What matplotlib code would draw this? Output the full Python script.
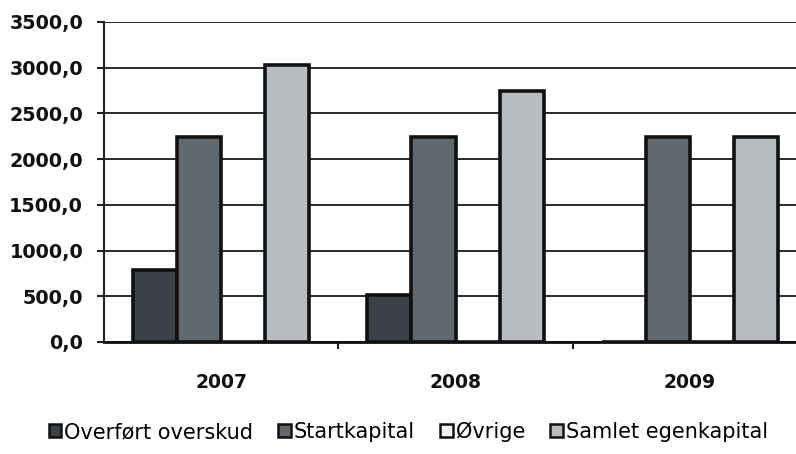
import numpy as np
import matplotlib
matplotlib.use('Agg')
import matplotlib.pyplot as plt
from matplotlib.ticker import FuncFormatter

years = ['2007', '2008', '2009']
series = ['Overført overskud', 'Startkapital', 'Øvrige', 'Samlet egenkapital']
overfort = [790, 510, 0]
startkapital = [2240, 2240, 2240]
ovrige = [0, 0, 0]
samlet = [3030, 2750, 2240]
values = [overfort, startkapital, ovrige, samlet]
colors = ['#3b4146', '#62696e', '#f2f2f2', '#b9bdc1']

plt.rcParams['font.family'] = ['DejaVu Sans']

fig = plt.figure(figsize=(7.96, 4.54), dpi=100)
ax = fig.add_axes([104/796, 1-342/454, 1-104/796, 320/454])

x = np.arange(len(years))
w = 0.188
for i, (name, vals, c) in enumerate(zip(series, values, colors)):
    ax.bar(x + (i - 1.5) * w, vals, width=w, color=c, edgecolor='#111111',
           linewidth=2.6, label=name, zorder=3)

ax.set_ylim(0, 3500)
ax.set_yticks(np.arange(0, 3501, 500))
ax.yaxis.set_major_formatter(FuncFormatter(lambda v, p: f'{v:.1f}'.replace('.', ',')))
ax.set_xlim(-0.5, (796 - 222) / 234)
ax.set_xticks(x)
ax.set_xticklabels(years)
ax.set_xticks([0.5, 1.5], minor=True)
ax.tick_params(axis='x', which='major', length=0, pad=22, labelsize=13.5)
ax.tick_params(axis='x', which='minor', length=5, width=1.5, direction='out', color='#222222')
ax.tick_params(axis='y', length=5, width=1.5, color='#222222', labelsize=13.8, pad=10)
for lab in ax.get_xticklabels() + ax.get_yticklabels():
    lab.set_fontweight('bold')
    lab.set_color('#111111')

ax.grid(axis='y', color='#2a2a2a', linewidth=1.4, zorder=0)
for s in ['top', 'right']:
    ax.spines[s].set_visible(False)
ax.spines['left'].set_color('#222222')
ax.spines['left'].set_linewidth(1.5)
ax.spines['bottom'].set_color('#111111')
ax.spines['bottom'].set_linewidth(2)

leg = fig.legend(loc='center', bbox_to_anchor=(0.513, 1-432/454), ncol=4, frameon=False,
                 fontsize=15, handlelength=0.6, handleheight=0.6, handletextpad=0.15,
                 columnspacing=1.2, borderaxespad=0)
for h in leg.legend_handles:
    h.set_linewidth(1.8)

fig.savefig('out.png', dpi=100)
